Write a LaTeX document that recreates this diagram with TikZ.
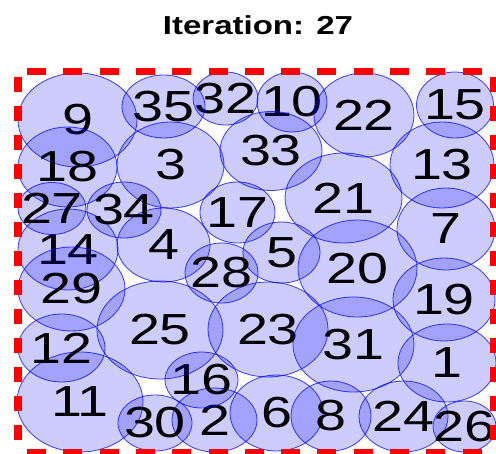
\documentclass[tikz,border=0pt]{standalone}
\usepackage{fontspec}
\setmainfont{Liberation Sans}
\usepackage{graphicx}
\usetikzlibrary{shapes.geometric}
\tikzset{
  bubble/.style={ellipse, draw=blue, draw opacity=0.75, line width=0.8pt,
    fill=blue, fill opacity=0.2, inner sep=0pt, outer sep=0pt},
  numlab/.style={inner sep=0pt, text=black, font=\fontsize{43.5}{43.5}\selectfont},
  ttl/.style={inner sep=0pt, text=black, font=\fontsize{26}{26}\selectfont\bfseries},
  hline/.style={draw=red, line width=6.5pt, dash pattern=on 19pt off 17.3pt},
  vline/.style={draw=red, line width=8pt, dash pattern=on 15pt off 14pt},
}
\newcommand{\bub}[5]{%
  \node[bubble, minimum width=#4pt, minimum height=#5pt] (c#1) at (#2,#3) {};
  \node[numlab] (t#1) at (c#1.center) {\scalebox{1.28}[1]{#1}};}
\begin{document}
\begin{tikzpicture}[x=1pt,y=-1pt]
\useasboundingbox (0,0) rectangle (496,454);
\node[ttl] (title) at (258,25) {\scalebox{1.27}[1]{Iteration: 27}};
\bub{1}{447}{363}{98}{78}
\bub{2}{214.5}{420}{85}{64}
\bub{3}{170.5}{165}{107}{86}
\bub{4}{163.5}{245}{93}{74}
\bub{5}{281.5}{252.5}{77}{61}
\bub{6}{276.5}{413}{93}{76}
\bub{7}{446}{229}{98}{82}
\bub{8}{331}{416}{80}{70}
\bub{9}{77.5}{120}{119}{94}
\bub{10}{292}{102}{70}{60}
\bub{11}{80}{402}{126}{100}
\bub{12}{61.5}{348}{87}{68}
\bub{13}{442}{165}{104}{86}
\bub{14}{68}{249.5}{100}{81}
\bub{15}{455}{105}{77}{66}
\bub{16}{201.5}{380}{73}{56}
\bub{17}{237.5}{212.5}{75}{61}
\bub{18}{67.5}{167}{99}{80}
\bub{19}{444}{299.5}{102}{83}
\bub{20}{357.5}{268.5}{119}{97}
\bub{21}{343.5}{198}{117}{90}
\bub{22}{364}{115}{100}{84}
\bub{23}{268}{329.5}{120}{95}
\bub{24}{403.5}{416.5}{89}{71}
\bub{25}{160}{330}{126}{98}
\bub{26}{464.5}{426.5}{63}{51}
\bub{27}{52}{208.5}{68}{52}
\bub{28}{221.5}{273}{73}{60}
\bub{29}{71.5}{289}{107}{84}
\bub{30}{155}{423}{74}{56}
\bub{31}{353.5}{344.5}{121}{95}
\bub{32}{225.5}{98.5}{65}{53}
\bub{33}{271}{151}{102}{79}
\bub{34}{124}{210}{74}{56}
\bub{35}{163.5}{106.5}{83}{63}
\coordinate (tl) at (17.5,71.7);
\coordinate (tr) at (494,71.7);
\coordinate (bl) at (17.5,452);
\coordinate (br) at (494,452);
\draw[hline, dash phase=26.8pt] (tl) -- (tr);
\draw[hline, dash phase=26.8pt] (bl) -- (br);
\draw[vline, dash phase=23.7pt] (tl) -- (bl);
\draw[vline, dash phase=23.7pt] (tr) -- (br);
\end{tikzpicture}
\end{document}
